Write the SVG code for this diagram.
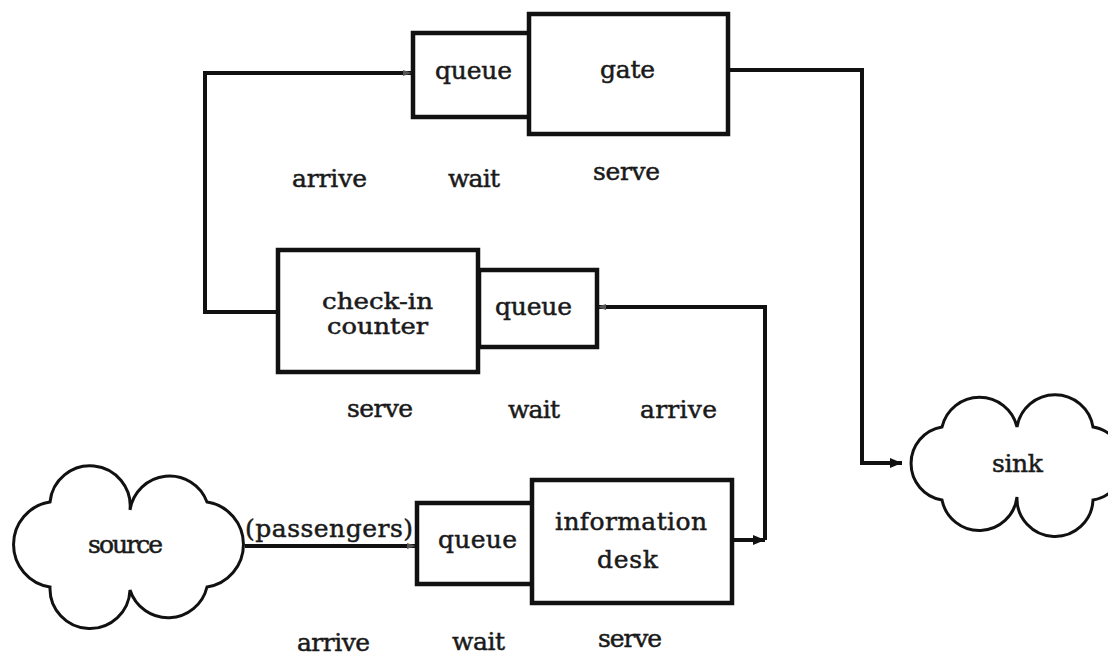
<svg xmlns="http://www.w3.org/2000/svg" width="1108" height="657" viewBox="0 0 1108 657">
<style>
.box{fill:#fff;stroke:#111;stroke-width:4.5}
.cloud{fill:#fff;stroke:#111;stroke-width:3}
.ln{fill:none;stroke:#111;stroke-width:4;stroke-linejoin:miter}
text{font-family:"DejaVu Serif","Liberation Serif",serif;font-size:25px;fill:#1a1a1a;stroke:#1a1a1a;stroke-width:0.5}
.sm{font-size:23px}
</style>
<defs>
<marker id="ah" markerUnits="userSpaceOnUse" markerWidth="14" markerHeight="12" refX="12" refY="6" orient="auto">
<path d="M0,1 L12,6 L0,11 Z" fill="#111"/>
</marker>
<marker id="ahs" markerUnits="userSpaceOnUse" markerWidth="10" markerHeight="8" refX="9" refY="4" orient="auto">
<path d="M0,1 L9,4 L0,7 Z" fill="#555"/>
</marker>
</defs>
<rect width="1108" height="657" fill="#fff"/>

<g id="connectors">
<path class="ln" d="M278,312 L205,312 L205,73 L412,73" marker-end="url(#ahs)"/>
<path class="ln" d="M728,70 L862,70 L862,463 L902,463" marker-end="url(#ah)"/>
<path class="ln" d="M732,540 L765,540" marker-end="url(#ah)"/>
<path class="ln" d="M765,540 L765,307 L597,307" marker-end="url(#ahs)"/>
<path class="ln" d="M245,546 L416,546" marker-end="url(#ahs)"/>
</g>

<g id="source">
<path class="cloud" d="M50,502 A40 40 0 0 1 130,510 A40 40 0 0 1 207,502 A43 43 0 0 1 207,587 A40 40 0 0 1 130,590 A40 40 0 0 1 50,587 A43 43 0 0 1 50,502 Z"/>
<text x="88" y="553" textLength="75">source</text>
</g>

<g id="sink">
<path class="cloud" d="M942,427 A38.5 38.5 0 0 1 1017,427 A38.5 38.5 0 0 1 1093,427 A37 37 0 0 1 1093,500 A38 38 0 0 1 1017,497 A38 38 0 0 1 942,500 A37 37 0 0 1 942,427 Z"/>
<text x="992" y="472" textLength="51">sink</text>
</g>

<g id="gate-queue">
<rect class="box" x="413" y="33" width="118" height="84"/>
<text x="435" y="79" textLength="77">queue</text>
</g>
<g id="gate">
<rect class="box" x="529" y="14" width="199" height="120"/>
<text x="600" y="78" textLength="55">gate</text>
</g>

<g id="checkin-counter">
<rect class="box" x="278" y="250" width="200" height="122"/>
<text class="sm" x="322" y="309" textLength="111" lengthAdjust="spacingAndGlyphs">check-in</text>
<text class="sm" x="327" y="334" textLength="101" lengthAdjust="spacingAndGlyphs">counter</text>
</g>
<g id="checkin-queue">
<rect class="box" x="479" y="270" width="118" height="77"/>
<text x="495" y="315" textLength="77">queue</text>
</g>

<g id="info-queue">
<rect class="box" x="417" y="503" width="117" height="81"/>
<text x="438" y="548" textLength="79">queue</text>
</g>
<g id="info-desk">
<rect class="box" x="532" y="480" width="200" height="123"/>
<text x="555" y="530" textLength="152">information</text>
<text x="597" y="568" textLength="61">desk</text>
</g>

<g id="labels">
<text x="245" y="537" textLength="168">(passengers)</text>
<text x="292" y="187" textLength="75">arrive</text>
<text x="448" y="187" textLength="52">wait</text>
<text x="593" y="180" textLength="67">serve</text>
<text x="347" y="417" textLength="66">serve</text>
<text x="508" y="418" textLength="52">wait</text>
<text x="640" y="418" textLength="77">arrive</text>
<text x="297" y="651" textLength="73">arrive</text>
<text x="452" y="650" textLength="53">wait</text>
<text x="598" y="647" textLength="64">serve</text>
</g>
</svg>
